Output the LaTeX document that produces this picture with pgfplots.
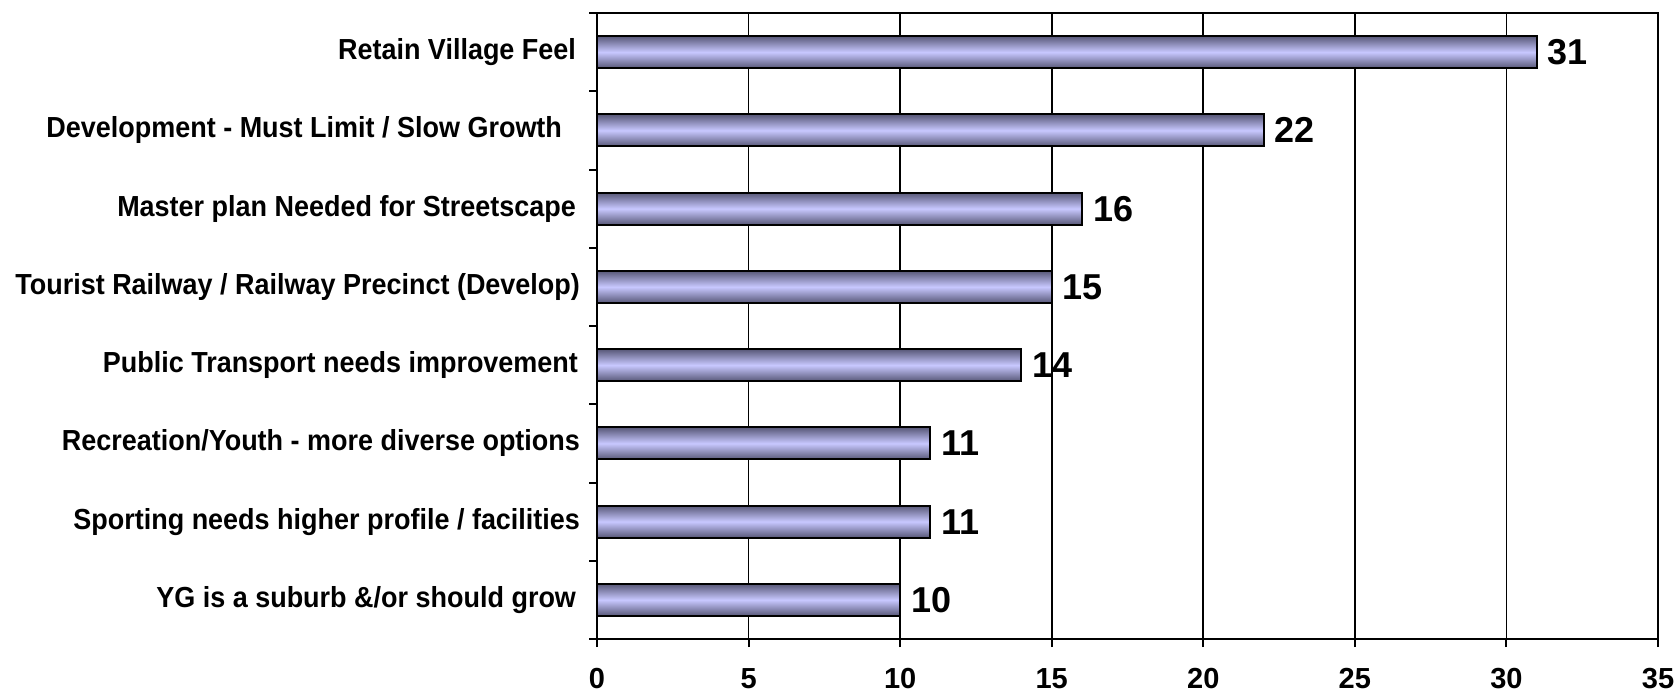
\documentclass[border=0pt]{standalone}
\usepackage{fontspec}
\setmainfont{Liberation Sans}
\newfontfamily\condfont[FakeStretch=0.93]{Liberation Sans}
\usepackage{pgfplots}
\pgfplotsset{compat=1.18}
\definecolor{barDark}{RGB}{88,88,120}
\definecolor{barLight}{RGB}{200,200,255}
\pgfplotsset{mybar/.style={draw=black, line width=1pt, top color=barDark, bottom color=barDark, middle color=barLight}}
\begin{document}
\begin{tikzpicture}
\useasboundingbox (0,0) rectangle (839.5pt,346.5pt);
\begin{axis}[
  at={(298.5pt,27pt)}, anchor=south west,
  scale only axis, width=530.5pt, height=313pt,
  xbar, bar width=16pt, bar shift=0pt,
  xmin=0, xmax=35, ymin=-0.5, ymax=7.5,
  xtick={0,5,...,35},
  xmajorgrids, major grid style={black, line width=0.8pt},
  axis line style={black, line width=1pt},
  tick style={black, line width=1pt},
  major tick length=4pt,
  tick align=outside,
  xtick pos=bottom, ytick pos=left,
  ytick={-0.5,0.5,...,7.5}, yticklabels={},
  extra y ticks={0,1,...,7},
  extra y tick style={major tick length=0pt, grid=none},
  extra y tick labels={
    {YG is a suburb \&/or should grow\kern2pt},
    {Sporting needs higher profile / facilities},
    {Recreation/Youth - more diverse options},
    {Public Transport needs improvement\kern1pt},
    {Tourist Railway / Railway Precinct (Develop)},
    {Master plan Needed for Streetscape\kern2pt},
    {Development - Must Limit / Slow Growth\kern9pt},
    {Retain Village Feel\kern2pt}},
  yticklabel style={font=\condfont\bfseries\fontsize{14.5}{16}\selectfont, xshift=-5pt},
  xticklabel style={font=\bfseries\fontsize{14.5}{16}\selectfont, yshift=-7pt},
  /pgf/number format/assume math mode=true,
  nodes near coords,
  every node near coord/.append style={font=\bfseries\fontsize{18}{20}\selectfont, anchor=west, inner sep=0pt, xshift=5pt, black},
  clip=false,
]
\addplot[mybar] coordinates {(10,0)};
\addplot[mybar] coordinates {(11,1)};
\addplot[mybar] coordinates {(11,2)};
\addplot[mybar] coordinates {(14,3)};
\addplot[mybar] coordinates {(15,4)};
\addplot[mybar] coordinates {(16,5)};
\addplot[mybar] coordinates {(22,6)};
\addplot[mybar] coordinates {(31,7)};
\end{axis}
\end{tikzpicture}
\end{document}
